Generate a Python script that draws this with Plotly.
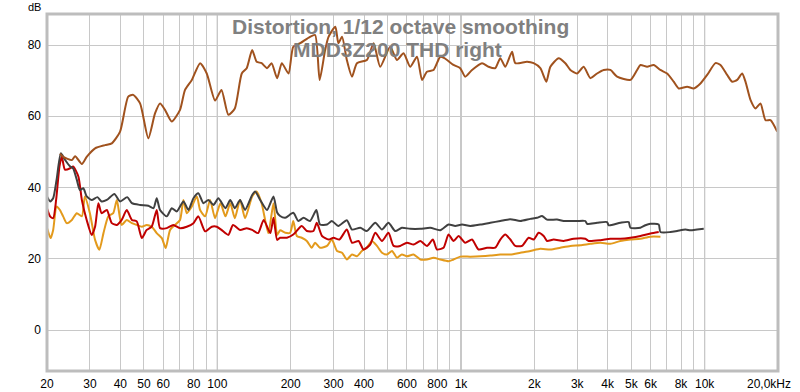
import plotly.graph_objects as go

# ---------------- data ----------------
thd_freq = [22.6, 23.3, 25.3, 26.1, 27.8, 29.1, 31.5, 34.6, 36.9, 39.9, 43.1, 45.2, 48.2, 52.1, 55.5,
            58.2, 61.0, 65.0, 70.3, 73.7, 78.6, 85.0, 90.5, 97.9, 104, 111, 118, 126, 132, 139, 145,
            152, 160, 167, 176, 184, 196, 205, 219, 240, 252, 263, 277, 286, 305, 314, 325, 340, 357,
            374, 411, 438, 466, 512, 546, 581, 619, 660, 692, 725, 772, 822, 855, 932, 993, 1041, 1110,
            1220, 1298, 1383, 1450, 1520, 1620, 1671, 1867, 1987, 2117, 2240, 2327, 2517, 2681, 2811,
            2995, 3188, 3396, 3618, 3851, 4103, 4372, 4958, 5282, 5450, 5806, 6180, 6584, 7014, 7466,
            7828, 8475, 9021, 9610, 10239, 11075, 11612, 12371, 12970, 13598, 14256, 14708, 15420,
            16167, 16950, 17771, 18631, 19849]
thd_db = [49.5, 48.6, 47.7, 48.8, 46.6, 48.6, 51.0, 51.9, 52.4, 55.7, 65.5, 66.0, 63.6, 53.8, 60.8,
          63.6, 61.8, 58.5, 61.8, 67.4, 70.2, 74.9, 72.0, 64.4, 67.4, 60.4, 62.2, 72.0, 73.5, 78.6, 75.3,
          74.9, 73.5, 74.9, 70.7, 74.9, 72.0, 79.5, 80.5, 82.3, 82.8, 70.2, 78.6, 82.3, 85.1, 80.5, 82.3,
          75.8, 71.1, 74.9, 75.8, 80.5, 73.9, 79.5, 75.8, 77.7, 73.9, 76.7, 70.2, 72.5, 73.0, 76.7, 76.3,
          74.4, 73.5, 71.1, 73.0, 74.9, 73.9, 73.5, 76.3, 73.9, 78.1, 74.9, 75.3, 74.9, 73.5, 69.7, 73.9,
          76.3, 74.9, 73.0, 72.0, 73.9, 70.7, 72.0, 73.0, 73.0, 71.1, 70.2, 73.0, 74.4, 73.9, 74.4, 73.0,
          72.0, 69.7, 67.8, 68.3, 67.8, 69.2, 71.6, 74.9, 74.4, 71.6, 69.7, 70.2, 72.0, 69.7, 64.6, 62.2,
          63.6, 58.9, 58.9, 55.7]

noise_freq = [20, 20.6, 21.2, 21.9, 22.8, 23.7, 24.9, 25.6, 26.5, 27.3, 28.2, 29.1, 30.5, 32.2, 33.5,
              35.2, 37.8, 39.9, 42.7, 44.6, 48.2, 52.1, 54.7, 56.4, 58.2, 62.0, 65.0, 68.2, 72.6, 76.1,
              79.8, 83.6, 87.7, 91.9, 96.4, 101, 108, 113, 118, 124, 130, 139, 143, 150, 160, 170, 176,
              181, 190, 205, 215, 226, 240, 255, 264, 282, 295, 314, 340, 357, 386, 411, 445, 474, 504,
              537, 572, 619, 681, 748, 822, 889, 947, 1010, 1092, 1200, 1319, 1450, 1594, 1752, 1926,
              2052, 2151, 2255, 2479, 2639, 2995, 3239, 3292, 3618, 3977, 4038, 4510, 4878, 4958, 5450,
              5713, 5990, 6479, 6584, 7237, 7710, 8339, 8743, 9315, 9915]
noise_db = [37.5, 36.1, 37.0, 42.2, 49.6, 47.8, 45.9, 45.4, 42.2, 39.3, 39.8, 37.5, 36.5, 37.3, 36.1,
            36.5, 38.2, 36.1, 37.3, 35.6, 35.1, 34.9, 34.2, 37.0, 33.7, 31.9, 34.2, 33.3, 36.1, 33.7,
            37.0, 38.4, 35.6, 36.5, 35.1, 37.0, 34.2, 36.5, 34.2, 36.5, 33.7, 37.9, 38.9, 36.5, 33.7, 37.5, 33.0,
            32.0, 31.5, 32.9, 30.6, 31.5, 30.6, 33.7, 29.6, 29.6, 30.6, 29.2, 30.8, 28.2, 28.7, 27.8,
            30.1, 28.2, 30.1, 27.8, 28.7, 28.4, 28.4, 28.7, 28.0, 29.6, 29.2, 29.6, 29.2, 29.6, 30.1,
            30.6, 31.1, 30.6, 31.2, 31.5, 32.0, 31.0, 31.0, 30.6, 30.6, 30.6, 29.8, 30.1, 30.3, 29.4,
            30.1, 30.3, 28.7, 28.7, 29.4, 29.8, 29.6, 27.5, 27.5, 27.8, 28.2, 28.0, 28.2, 28.4]

h2_freq = [20, 20.6, 21.2, 21.8, 22.5, 23.0, 23.7, 24.9, 25.6, 26.9, 27.8, 29.1, 30.5, 31.5, 32.5,
           33.5, 35.2, 36.9, 38.7, 40.5, 42.5, 44.6, 46.7, 49.0, 51.3, 53.8, 56.4, 58.2, 62.0, 66.0,
           70.3, 74.9, 79.8, 83.6, 89.1, 94.9, 99.5, 104, 111, 116, 124, 132, 139, 147, 155, 165, 170,
           176, 181, 193, 205, 222, 233, 248, 256, 269, 286, 300, 317, 340, 357, 380, 398, 424, 445,
           474, 504, 529, 563, 600, 639, 681, 725, 767, 797, 848, 889, 932, 978, 1041, 1110, 1181,
           1279, 1383, 1450, 1520, 1594, 1671, 1780, 1895, 1987, 2083, 2184, 2255, 2400, 2639, 2900,
           3239, 3342, 3733, 4103, 4510, 4958, 5450, 5990, 6479]
h2_db = [34.2, 31.9, 31.4, 36.5, 45.9, 48.7, 45.0, 45.4, 45.9, 43.1, 36.5, 30.9, 26.7, 29.0, 35.6,
         32.8, 33.7, 30.0, 29.5, 30.9, 33.7, 30.9, 30.5, 25.8, 28.1, 29.0, 33.7, 28.6, 28.6, 29.5,
         28.6, 29.0, 30.0, 31.9, 27.7, 29.0, 29.0, 28.1, 26.7, 29.5, 28.1, 28.6, 28.1, 27.2, 30.9, 27.2, 31.5,
         25.3, 25.9, 25.9, 26.8, 29.2, 27.8, 27.8, 30.1, 26.4, 25.4, 25.9, 25.4, 28.2, 24.5, 25.0,
         22.6, 24.0, 27.3, 25.0, 27.3, 23.6, 23.6, 24.5, 24.0, 25.0, 23.6, 25.4, 22.6, 23.1, 26.8,
         25.0, 26.4, 24.5, 25.4, 22.6, 23.1, 23.1, 25.4, 26.8, 25.4, 23.6, 23.6, 25.9, 25.4, 27.3,
         26.4, 25.0, 25.4, 25.0, 25.6, 25.6, 25.0, 25.2, 25.6, 25.6, 25.9, 26.4, 27.1, 27.5]

h3_freq = [20, 20.7, 21.2, 21.9, 22.6, 23.3, 24.1, 25.3, 26.5, 27.8, 28.6, 30.0, 31.5, 32.8, 34.1,
           35.7, 37.4, 38.7, 40.5, 42.5, 44.6, 46.7, 49.0, 51.3, 53.8, 56.4, 59.2, 61.4, 64.0, 67.1,
           70.3, 72.6, 74.9, 78.6, 82.4, 85.0, 89.1, 93.4, 97.9, 103, 108, 113, 118, 124, 130, 139,
           145, 152, 162, 170, 176, 181, 190, 199, 205, 212, 222, 233, 244, 252, 264, 282, 295, 310,
           325, 340, 357, 374, 392, 411, 431, 452, 474, 497, 521, 546, 572, 600, 639, 681, 725, 772,
           822, 889, 932, 993, 1092, 1200, 1319, 1450, 1594, 1752, 1926, 2117, 2327, 2557, 2811, 3090,
           3396, 3733, 4103, 4510, 4958, 5450, 5990, 6584]
h3_db = [28.6, 25.8, 28.1, 34.7, 33.7, 31.9, 30.0, 30.9, 32.8, 31.9, 37.5, 32.8, 25.3, 22.5, 27.2,
         31.9, 32.8, 36.5, 29.5, 30.9, 30.0, 29.5, 29.0, 29.5, 29.0, 27.2, 25.8, 23.0, 28.1, 29.5,
         30.9, 36.5, 32.8, 34.7, 37.5, 33.7, 31.9, 36.5, 31.4, 35.6, 31.9, 35.6, 31.4, 36.5, 31.4,
         37.5, 38.9, 35.6, 27.2, 35.6, 26.7, 28.0, 27.3, 27.3, 30.6, 26.4, 25.9, 25.0, 23.1, 24.5,
         23.1, 23.6, 25.4, 22.2, 21.7, 19.8, 21.2, 20.7, 22.2, 23.1, 25.0, 23.6, 21.7, 21.2, 22.2,
         20.3, 21.2, 20.7, 21.2, 19.8, 19.8, 20.3, 19.8, 19.3, 19.8, 20.6, 20.6, 20.7, 20.9, 21.2,
         21.2, 21.7, 22.2, 22.8, 22.6, 23.1, 23.6, 23.8, 24.2, 24.5, 24.2, 25.0, 25.4, 25.6, 26.2, 26.2]

grid_freqs = [20, 30, 40, 50, 60, 70, 80, 90, 100, 200, 300, 400, 500, 600, 700, 800, 900, 1000,
              2000, 3000, 4000, 5000, 6000, 7000, 8000, 9000, 10000]
grid_labels = ["20", "30", "40", "50", "60", "", "80", "", "100", "200", "300", "400", "", "600", "",
               "800", "", "1k", "2k", "3k", "4k", "5k", "6k", "", "8k", "", "10k"]
decade_freqs = [100, 1000, 10000]
y_ticks = [0, 20, 40, 60, 80]

title_lines = ["Distortion, 1/12 octave smoothing", "MDD3Z200 THD right"]

# ---------------- figure ----------------
fig = go.Figure()
series = [
    ("H3", h3_freq, h3_db, "#E39A1C"),
    ("H2", h2_freq, h2_db, "#C00000"),
    ("Noise", noise_freq, noise_db, "#404040"),
    ("THD", thd_freq, thd_db, "#A0521E"),
]
for name, fx, fy, col in series:
    fig.add_trace(go.Scatter(x=fx, y=fy, mode="lines", name=name,
                             line=dict(color=col, width=2, shape="spline", smoothing=0.6),
                             hoverinfo="skip"))

for f in decade_freqs:
    fig.add_shape(type="line", xref="x", yref="paper", x0=f, x1=f, y0=0, y1=1,
                  line=dict(color="#8a8a8a", width=1), layer="below")

fig.add_shape(type="rect", xref="paper", yref="paper", x0=0, x1=1, y0=0, y1=1,
              line=dict(color="#bdbdbd", width=3))

font = "Liberation Sans, Arial, sans-serif"
fig.update_layout(
    width=800, height=392, autosize=False,
    margin=dict(l=47, r=22, t=14, b=21, autoexpand=False),
    paper_bgcolor="white", plot_bgcolor="white",
    showlegend=False,
    font=dict(family=font, size=12, color="#000000"),
    xaxis=dict(type="log", range=[1.30103, 4.30103], tickmode="array",
               tickvals=grid_freqs, ticktext=grid_labels, showgrid=True,
               gridcolor="#c8c8c8", gridwidth=1, ticks="", zeroline=False,
               showline=False, ticklabelstandoff=4, automargin=False),
    yaxis=dict(range=[-11.5, 88.7], tickmode="array", tickvals=y_ticks,
               showgrid=True, gridcolor="#c8c8c8", gridwidth=1, ticks="",
               zeroline=False, showline=False, ticklabelstandoff=5, automargin=False),
)

fig.add_annotation(text="20,0kHz", xref="paper", yref="paper", x=1, y=0,
                   xanchor="right", yanchor="top", xshift=15, yshift=-4,
                   showarrow=False, font=dict(family=font, size=12, color="#000"))
fig.add_annotation(text="dB", xref="paper", yref="paper", x=0, y=1,
                   xanchor="right", yanchor="top", xshift=-5, yshift=14, borderpad=0,
                   showarrow=False, font=dict(family=font, size=11, color="#000"))
fig.add_annotation(text="<b>%s</b>" % title_lines[0], xref="paper", yref="paper",
                   x=0.483, y=0.966, xanchor="center", yanchor="middle", showarrow=False,
                   font=dict(family=font, size=21, color="#808080"))
fig.add_annotation(text="<b>%s</b>" % title_lines[1], xref="paper", yref="paper",
                   x=0.480, y=0.900, xanchor="center", yanchor="middle", showarrow=False,
                   font=dict(family=font, size=21, color="#808080"))

fig.write_html("out.html", config={"displayModeBar": False},
               post_script="document.body.style.margin='0';")
